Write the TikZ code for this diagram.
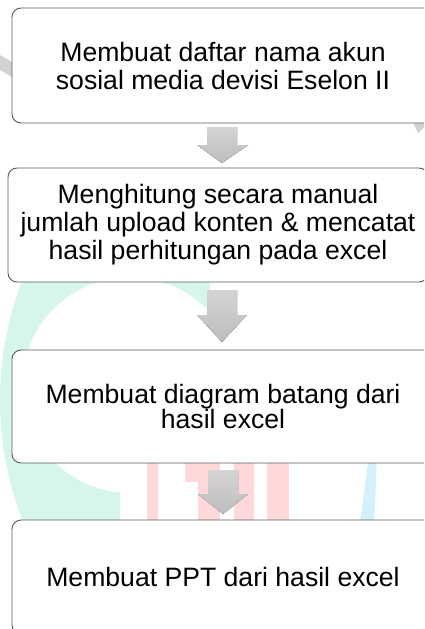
\documentclass[tikz,border=0pt]{standalone}
\usepackage{fontspec}
\setmainfont{Liberation Sans}
\usepackage{tikz}
\definecolor{boxgray}{HTML}{5A5A5A}
\definecolor{arrtop}{HTML}{D4D4D4}
\definecolor{arrbot}{HTML}{BDBDBD}
\definecolor{mint}{HTML}{D6F5EC}
\definecolor{pinkish}{HTML}{FFD9D9}
\definecolor{skyish}{HTML}{D4F0FB}
\definecolor{fadegray}{HTML}{D2D2D2}

\begin{document}
\begin{tikzpicture}[x=1pt,y=-1pt,
		box/.style={draw=boxgray, line width=0.9pt, rounded corners=9pt, fill=white,
			align=center, inner sep=0pt, minimum width=422pt,
			font=\fontsize{26.6}{28}\selectfont},
		blk/.style={top color=arrtop, bottom color=arrbot, draw=none}]
	\useasboundingbox (0,0) rectangle (424,629);
	\clip (0,0) rectangle (424,629);
	%% faded logo behind the boxes
	\begin{scope}
		\clip (0,170) -- (210,170) -- (210,360) -- (120,360) -- (120,600) -- (0,600) -- cycle;
		\fill[mint, even odd rule] (330,400) circle[radius=330] (130,385) circle[radius=108];
	\end{scope}
	\fill[pinkish] (147,440) rectangle (158,540);
	\fill[pinkish] (185,440) rectangle (220,482);
	\fill[pinkish] (198,440) rectangle (220,540);
	\fill[pinkish] (234,440) rectangle (254,540);
	\fill[pinkish] (267,440) rectangle (289,540);
	\fill[skyish] (369,455) -- (377,455) -- (374,530) -- (359,530) -- cycle;
	\fill[fadegray] (0,55) -- (12,62) -- (12,77) -- (0,70) -- cycle;
	\fill[fadegray] (411,118) -- (424,118) -- (424,127) -- (418,133) -- cycle;
	%% define boxes
	\node (b1) at (223,65.5) [box, minimum height=115pt]
		{Membuat daftar nama akun\\sosial media devisi Eselon II};
	\node (b2) at (218,225) [box, minimum width=420pt, minimum height=114pt]
		{Menghitung secara manual\\jumlah upload konten \& mencatat\\hasil perhitungan pada excel};
	\node (b3) at (223,406.5) [box, minimum height=113pt, font=\fontsize{26.6}{25}\selectfont]
		{Membuat diagram batang dari\\hasil excel};
	\node (b4) at (223,577) [box, minimum height=114pt]
		{Membuat PPT dari hasil excel};
	%% define arrows
	\fill[blk] (207,127) -- (237,127) -- (237,145) -- (248,145) -- (222,163) -- (197,145) -- (207,145) -- cycle;
	\fill[blk] (207,290) -- (237,290) -- (237,315) -- (247,315) -- (222,342) -- (197,315) -- (207,315) -- cycle;
	\fill[blk] (208,470) -- (238,470) -- (238,494) -- (248,494) -- (223,514) -- (198,494) -- (208,494) -- cycle;
\end{tikzpicture}
\end{document}
